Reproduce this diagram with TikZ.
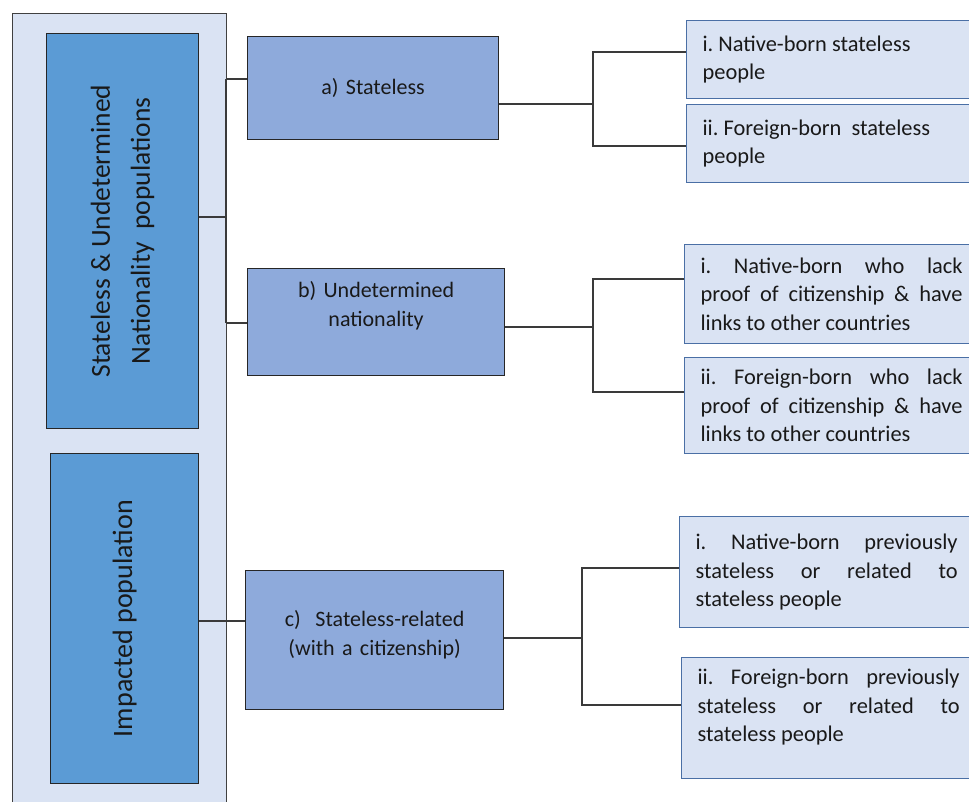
\documentclass[tikz,border=0pt]{standalone}
\usepackage{fontspec}
\setmainfont{Carlito}
\frenchspacing
\definecolor{outerfill}{HTML}{DAE3F3}
\definecolor{popfill}{HTML}{5B9BD5}
\definecolor{groupfill}{HTML}{8EAADB}
\definecolor{leafline}{HTML}{4A6FA5}
\definecolor{linkgray}{HTML}{3A3A3A}
\begin{document}
\begin{tikzpicture}[x=1pt,y=-1pt,
	outerbox/.style={draw=black!75, line width=1.2pt, fill=outerfill, anchor=north west, inner sep=0pt},
	popbox/.style={draw=black!85, line width=1.2pt, fill=popfill, anchor=north west, inner sep=0pt, text=black!90},
	groupbox/.style={draw=black!85, line width=1.2pt, fill=groupfill, anchor=north west, inner sep=0pt, text width=240pt, align=center, font=\fontsize{22}{28.5}\selectfont, text=black!90},
	leafbox/.style={draw=leafline, line width=1.2pt, fill=outerfill, anchor=north west, inner xsep=16pt, inner ysep=0pt, text width=262pt, align=justify, font=\fontsize{22.4}{28.5}\selectfont, text=black!90},
	link/.style={draw=linkgray, line width=1.2pt}]
				\useasboundingbox (0,0) rectangle (969,801);
				\clip (0,0) rectangle (969,801);
				\node[outerbox, minimum width=214pt, minimum height=810pt] (outer) at (12,13) {};
				\node[popbox, minimum width=152pt, minimum height=395pt] (sud) at (46,33) {\rotatebox{90}{\parbox{380pt}{\centering\fontsize{27.5}{40}\selectfont Stateless \& Undetermined\\Nationality~~populations}}};
				\node[popbox, minimum width=148pt, minimum height=330pt] (imp) at (50,453) {\rotatebox{90}{\fontsize{28}{40}\selectfont Impacted population}};
				\node[groupbox, minimum width=251pt, minimum height=103pt] (a) at (247,36) {a) Stateless};
				\node[groupbox, minimum width=257pt, minimum height=107pt] (b) at (247,268) {b) Undetermined\\nationality\par\vspace{33pt}};
				\node[groupbox, minimum width=258pt, minimum height=139pt] (c) at (245,570) {c)~~Stateless-related\\(with a citizenship)\par\vspace{11pt}};
				\node[leafbox, minimum height=78pt] (ai) at (686,20) {i. Native-born stateless\\people};
				\node[leafbox, minimum height=78pt] (aii) at (686,104) {ii. Foreign-born~~stateless\\people};
				\node[leafbox, minimum height=99pt] (bi) at (684,244) {i. Native-born who lack\linebreak proof of citizenship \& have\linebreak links to other countries};
				\node[leafbox, minimum height=96pt] (bii) at (684,357) {ii. Foreign-born who lack\linebreak proof of citizenship \& have\linebreak links to other countries};
				\node[leafbox, minimum height=111pt] (ci) at (679,516) {i. Native-born previously\linebreak stateless or related to\linebreak stateless people};
				\node[leafbox, minimum height=121pt] (cii) at (681,657) {ii. Foreign-born previously\linebreak stateless or related to\linebreak stateless people\par\vspace{22pt}};
				\coordinate (ts) at (226,217);
				\coordinate (ta) at (226,79);
				\coordinate (tb) at (226,323);
				\coordinate (tc) at (226,621);
				\draw[link] (ta) -- (tb);
				\draw[link] (sud.east |- ts) -- (ts);
				\draw[link] (ta) -- (a.west |- ta);
				\draw[link] (tb) -- (b.west |- tb);
				\draw[link] (imp.east |- tc) -- (c.west |- tc);
				\coordinate (ja) at (593,104);
				\coordinate (jb) at (593,327);
				\coordinate (jc) at (582,638);
				\draw[link] (a.east |- ja) -- (ja);
				\draw[link] (ai.west |- 0,52) -| (ja) |- (aii.west |- 0,146);
				\draw[link] (b.east |- jb) -- (jb);
				\draw[link] (bi.west |- 0,279) -| (jb) |- (bii.west |- 0,392);
				\draw[link] (c.east |- jc) -- (jc);
				\draw[link] (ci.west |- 0,568) -| (jc) |- (cii.west |- 0,705);
\end{tikzpicture}
\end{document}
